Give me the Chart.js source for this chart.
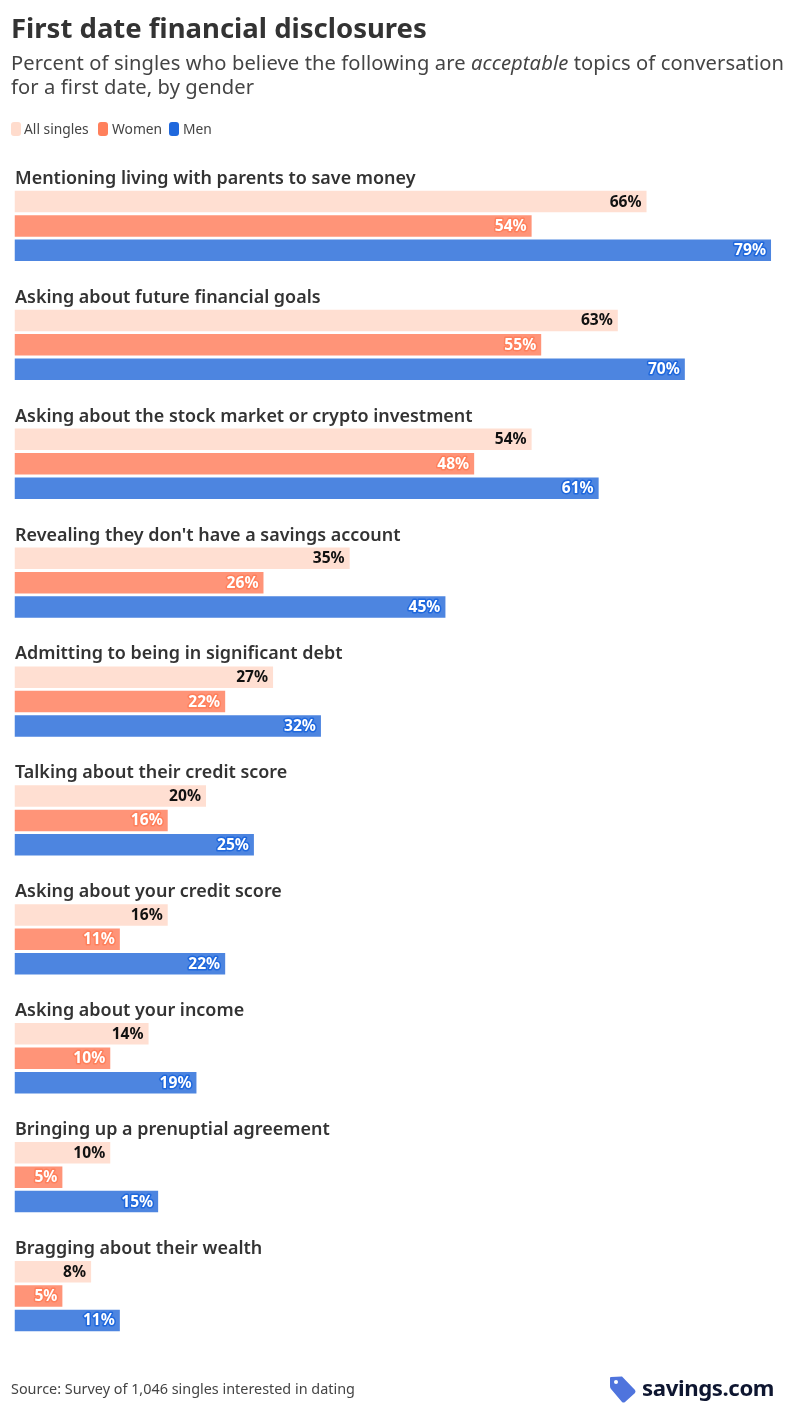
<!DOCTYPE html>
<html><head><meta charset="utf-8">
<script src="https://cdn.jsdelivr.net/npm/chart.js@4"></script>
<style>
html,body{margin:0;padding:0;background:#fff;width:795px;height:1425px;overflow:hidden;font-family:"Noto Sans",sans-serif}
#wrap{position:relative;width:795px;height:1425px}
canvas{position:absolute;left:0;top:0}
.t{position:absolute;white-space:nowrap}
#title{left:11px;top:9px;font-size:27.5px;font-weight:700;color:#333;line-height:38px}
#sub{left:11px;top:50px;font-size:20.15px;color:#444;line-height:24px;letter-spacing:.1px}
#legend{left:11px;top:120px;height:18px;font-size:13.8px;color:#444;line-height:18px}
#legend span.i{position:absolute;top:0;white-space:nowrap}
#legend b{position:absolute;top:2px;width:10px;height:14px;border-radius:3px}
#source{left:11px;top:1379px;font-size:14.4px;color:#444;line-height:20px}
#brand{left:642px;top:1372px;font-size:22.2px;font-weight:700;color:#0e1630;line-height:32px;letter-spacing:-.4px}
#logo{position:absolute;left:608px;top:1374px}
</style></head><body>
<div id="wrap">
<canvas id="c" width="795" height="1425"></canvas>
<div class="t" id="title">First date financial disclosures</div>
<div class="t" id="sub">Percent of singles who believe the following are <i>acceptable</i> topics of conversation<br>for a first date, by gender</div>
<div class="t" id="legend"></div>
<div class="t" id="source">Source: Survey of 1,046 singles interested in dating</div>
<svg id="logo" width="32" height="30" viewBox="0 0 32 30"><path d="M3 3 L14 2.500 L27 16 Q28 17.500 27 19 L17 28 Q15.500 29 14 28 L3 15 Q2 14 2 12 L2 4 Q2 3 3 3Z" fill="#4f74dd"/><circle cx="8" cy="8" r="2" fill="#fff"/></svg>
<div class="t" id="brand">savings.com</div>
</div>
<script>
const categories = [
 "Mentioning living with parents to save money",
 "Asking about future financial goals",
 "Asking about the stock market or crypto investment",
 "Revealing they don't have a savings account",
 "Admitting to being in significant debt",
 "Talking about their credit score",
 "Asking about your credit score",
 "Asking about your income",
 "Bringing up a prenuptial agreement",
 "Bragging about their wealth"
];
const allSingles = [66,63,54,35,27,20,16,14,10,8];
const women = [54,55,48,26,22,16,11,10,5,5];
const men = [79,70,61,45,32,25,22,19,15,11];
const seriesNames = ["All singles","Women","Men"];
const barColors = ["#FFDFD2","#FF9478","#4D85E0"];
const legendColors = ["#FFDCCD","#FF805C","#1F68DD"];
const haloColors = [null,"#FF805C","#1F68DD"];
const textColors = ["#111111","#ffffff","#ffffff"];

// legend
const leg = document.getElementById('legend');
const boxX=[0,87,158], txtX=[13,101,172];
seriesNames.forEach((n,i)=>{
  const b=document.createElement('b');b.style.left=boxX[i]+'px';b.style.background=legendColors[i];leg.appendChild(b);
  const s=document.createElement('span');s.className='i';s.style.left=txtX[i]+'px';s.textContent=n;leg.appendChild(s);
});

const overlay = {
  id:'overlay',
  afterDatasetsDraw(chart){
    const {ctx,scales:{y}}=chart;
    ctx.save();
    // category headings
    ctx.textAlign='left';ctx.textBaseline='middle';
    ctx.fillStyle='#333';ctx.font='600 17.95px "Noto Sans"';
    categories.forEach((c,i)=>{ctx.fillText(c,15,y.getPixelForValue(i)-47.2);});
    // value labels
    ctx.font='700 15.6px "Noto Sans"';ctx.textAlign='right';ctx.lineJoin='round';
    chart.data.datasets.forEach((ds,k)=>{
      chart.getDatasetMeta(k).data.forEach((bar,i)=>{
        const txt=ds.data[i]+'%',x=bar.x-5,yy=bar.y+0.5;
        if(haloColors[k]){ctx.strokeStyle=haloColors[k];ctx.lineWidth=3;ctx.strokeText(txt,x,yy);}
        ctx.fillStyle=textColors[k];ctx.fillText(txt,x,yy);
      });
    });
    ctx.restore();
  }
};
new Chart(document.getElementById('c'),{
  type:'bar',
  data:{labels:categories,datasets:[
    {label:seriesNames[0],data:allSingles,backgroundColor:barColors[0]},
    {label:seriesNames[1],data:women,backgroundColor:barColors[1]},
    {label:seriesNames[2],data:men,backgroundColor:barColors[2]}
  ]},
  options:{
    indexAxis:'y',responsive:false,animation:false,devicePixelRatio:1,
    datasets:{bar:{categoryPercentage:0.6156,barPercentage:0.88}},
    layout:{padding:{left:14.5,right:14.4,top:166.5,bottom:69.5}},
    plugins:{legend:{display:false},tooltip:{enabled:false}},
    scales:{
      x:{display:false,min:0,max:80},
      y:{display:false}
    }
  },
  plugins:[overlay]
});
</script>
</body></html>
